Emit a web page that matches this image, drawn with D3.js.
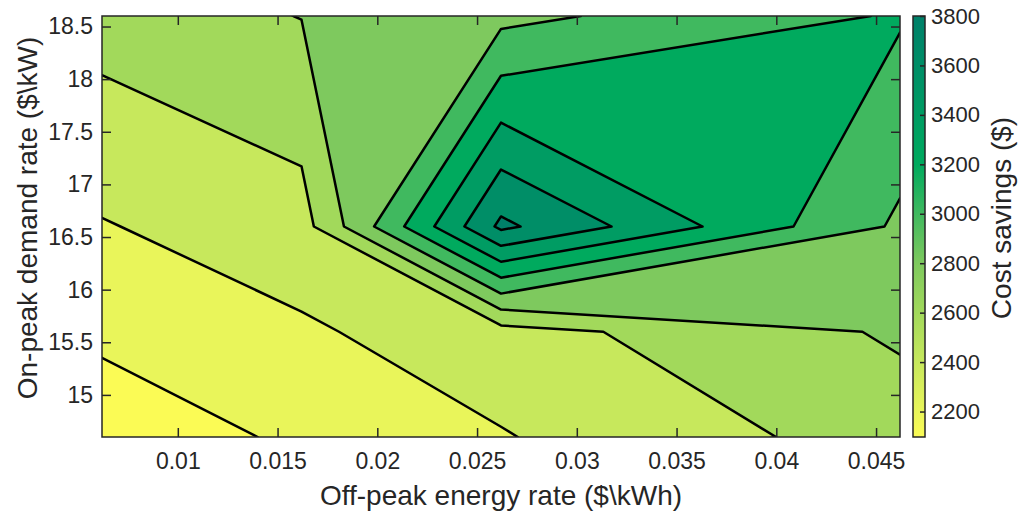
<!DOCTYPE html>
<html>
<head>
<meta charset="utf-8">
<script src="https://cdn.jsdelivr.net/npm/d3@7"></script>
<style>
  body { margin: 0; background: #fff; }
  text { font-family: "Liberation Sans", Arial, sans-serif; fill: #262626; }
</style>
</head>
<body>
<svg id="chart" width="1030" height="514"></svg>
<script>
// grid of the sensitivity run
const offPeakRate = [0.0062, 0.0162, 0.0262, 0.0462];   // $/kWh
const onPeakRate = [14.6, 15.6, 16.6, 18.6];            // $/kW
// cost savings ($), one row per on-peak rate, one column per off-peak rate
const savings = [
  [2097, 2229, 2387, 2696],
  [2234, 2372, 2521, 2829],
  [2388, 2518, 3843, 2966],
  [2683, 2805, 2945, 3220]
];
const levels = [2200, 2400, 2600, 2800, 3000, 3200, 3400, 3600, 3800];
const xTicks = [0.01, 0.015, 0.02, 0.025, 0.03, 0.035, 0.04, 0.045];
const yTicks = [15, 15.5, 16, 16.5, 17, 17.5, 18, 18.5];
const cbTicks = [2200, 2400, 2600, 2800, 3000, 3200, 3400, 3600, 3800];

// colormap (yellow -> green -> teal)
const cmapColors = ['#fbfb55', '#e9f55a', '#c7e85c', '#a2d95b', '#7ec95e',
                    '#40b95f', '#00aa5e', '#009c63', '#008e67', '#008069'];

const plotLeft = 102, plotRight = 900, plotTop = 16, plotBottom = 437;
const nx = offPeakRate.length, ny = onPeakRate.length;
const zMin = d3.min(savings.flat());
const tickFont = 23, labelFont = 28;

const x = d3.scaleLinear().domain(d3.extent(offPeakRate)).range([plotLeft, plotRight]);
const y = d3.scaleLinear().domain(d3.extent(onPeakRate)).range([plotBottom, plotTop]);

// grid index (cell centres at i + 0.5) -> data value, piecewise for the uneven grid
const gx = d3.scaleLinear().domain(offPeakRate.map((d, i) => i + 0.5)).range(offPeakRate);
const gy = d3.scaleLinear().domain(onPeakRate.map((d, i) => i + 0.5)).range(onPeakRate);

const cmap = d3.scaleLinear()
  .domain([zMin, ...levels])
  .range(cmapColors)
  .clamp(true);

const svg = d3.select('#chart');

svg.append('clipPath').attr('id', 'plotClip')
  .append('rect')
  .attr('x', plotLeft).attr('y', plotTop)
  .attr('width', plotRight - plotLeft).attr('height', plotBottom - plotTop);

// contours of -z so that saddles keep the high corners joined (as in the original)
const values = [];
for (let j = 0; j < ny; j++) for (let i = 0; i < nx; i++) values.push(-savings[j][i]);

const desc = levels.slice().reverse();
const contours = d3.contours()
  .size([nx, ny])
  .thresholds(desc.map(l => -l))(values);

const proj = d3.geoTransform({
  point: function(px, py) { this.stream.point(x(gx(px)), y(gy(py))); }
});
const path = d3.geoPath(proj);

const plot = svg.append('g').attr('clip-path', 'url(#plotClip)');

// top band first, then every region below a level painted over it
plot.append('rect')
  .attr('x', plotLeft).attr('y', plotTop)
  .attr('width', plotRight - plotLeft).attr('height', plotBottom - plotTop)
  .attr('fill', cmap(levels[levels.length - 1]));

plot.selectAll('path.fill')
  .data(contours)
  .enter().append('path')
  .attr('class', 'fill')
  .attr('d', path)
  .attr('fill', d => {
    const i = levels.indexOf(-d.value);
    return cmap(i === 0 ? zMin : levels[i - 1]);
  })
  .attr('stroke', 'none');

plot.selectAll('path.line')
  .data(contours)
  .enter().append('path')
  .attr('class', 'line')
  .attr('d', path)
  .attr('fill', 'none')
  .attr('stroke', '#000')
  .attr('stroke-width', 2.5)
  .attr('stroke-linejoin', 'round');

// axes
const fmt = d => String(d);

const bottomAxis = d3.axisBottom(x).tickValues(xTicks).tickFormat(fmt)
  .tickSizeInner(-9).tickSizeOuter(0).tickPadding(16);
const leftAxis = d3.axisLeft(y).tickValues(yTicks).tickFormat(fmt)
  .tickSizeInner(-9).tickSizeOuter(0).tickPadding(9);
const topAxis = d3.axisTop(x).tickValues(xTicks).tickFormat('')
  .tickSizeInner(-9).tickSizeOuter(0);
const rightAxis = d3.axisRight(y).tickValues(yTicks).tickFormat('')
  .tickSizeInner(-9).tickSizeOuter(0);

const axes = [
  [bottomAxis, `translate(0, ${plotBottom})`],
  [leftAxis, `translate(${plotLeft}, 0)`],
  [topAxis, `translate(0, ${plotTop})`],
  [rightAxis, `translate(${plotRight}, 0)`]
];
axes.forEach(([ax, tr]) => {
  const g = svg.append('g').attr('transform', tr).call(ax);
  g.select('.domain').remove();
  g.selectAll('line').attr('stroke', '#262626').attr('stroke-width', 1.5);
  g.selectAll('text').attr('font-size', tickFont).attr('fill', '#262626')
    .attr('font-family', '"Liberation Sans", Arial, sans-serif');
});

svg.append('rect')
  .attr('x', plotLeft).attr('y', plotTop)
  .attr('width', plotRight - plotLeft).attr('height', plotBottom - plotTop)
  .attr('fill', 'none').attr('stroke', '#262626').attr('stroke-width', 1.5);

svg.append('text')
  .text('Off-peak energy rate ($\\kWh)')
  .attr('x', (plotLeft + plotRight) / 2).attr('y', 505)
  .attr('text-anchor', 'middle').attr('font-size', labelFont);

svg.append('text')
  .text('On-peak demand rate ($\\kW)')
  .attr('transform', 'translate(37, 218) rotate(-90)')
  .attr('text-anchor', 'middle').attr('font-size', labelFont);

// colorbar
const cbLeft = 913, cbRight = 925;
const cbY = d3.scaleLinear().domain([zMin, levels[levels.length - 1]]).range([plotBottom, plotTop]);

const grad = svg.append('defs').append('linearGradient')
  .attr('id', 'cbGrad')
  .attr('x1', 0).attr('y1', 1).attr('x2', 0).attr('y2', 0);
grad.selectAll('stop')
  .data(cmap.domain())
  .enter().append('stop')
  .attr('offset', d => (d - zMin) / (levels[levels.length - 1] - zMin))
  .attr('stop-color', d => cmap(d));

svg.append('rect')
  .attr('x', cbLeft).attr('y', plotTop)
  .attr('width', cbRight - cbLeft).attr('height', plotBottom - plotTop)
  .attr('fill', 'url(#cbGrad)');

const cbAxis = d3.axisRight(cbY).tickValues(cbTicks).tickFormat(fmt)
  .tickSizeInner(-5).tickSizeOuter(0).tickPadding(6);
const cbG = svg.append('g').attr('transform', `translate(${cbRight}, 0)`).call(cbAxis);
cbG.select('.domain').remove();
cbG.selectAll('line').attr('stroke', '#262626').attr('stroke-width', 1.5);
cbG.selectAll('text').attr('font-size', 22).attr('fill', '#262626')
  .attr('font-family', '"Liberation Sans", Arial, sans-serif');

svg.append('rect')
  .attr('x', cbLeft).attr('y', plotTop)
  .attr('width', cbRight - cbLeft).attr('height', plotBottom - plotTop)
  .attr('fill', 'none').attr('stroke', '#262626').attr('stroke-width', 1.5);

svg.append('text')
  .text('Cost savings ($)')
  .attr('transform', 'translate(1011, 218) rotate(-90)')
  .attr('text-anchor', 'middle').attr('font-size', labelFont);
</script>
</body>
</html>
